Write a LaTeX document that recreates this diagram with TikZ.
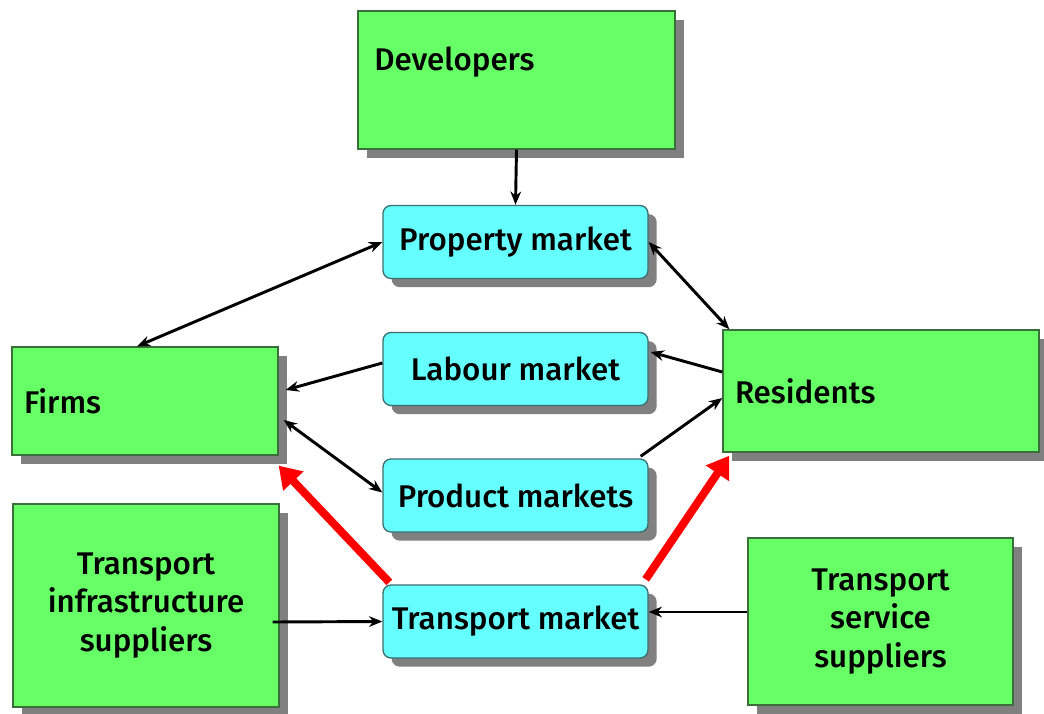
\documentclass[tikz,border=0pt]{standalone}
\usepackage{fontspec}
\setmainfont{Fira Sans}[BoldFont={Fira Sans Medium}]
\usepackage{tikz}
\usetikzlibrary{arrows.meta,shadows}
\tikzset{every picture/.style={line width=0.75pt}}

\begin{document}
\begin{tikzpicture}[x=0.75pt,y=0.75pt,yscale=-1,xscale=1,
	greenbox/.style={draw={rgb, 255:red, 60; green, 110; blue, 60 }, fill={rgb, 255:red, 102; green, 255; blue, 102 }, line width=1pt, inner sep=0pt,
		drop shadow={shadow xshift=6.5pt, shadow yshift=-6.5pt, fill={rgb, 255:red, 128; green, 128; blue, 128 }, opacity=1}},
	cyanbox/.style={draw={rgb, 255:red, 60; green, 110; blue, 110 }, fill={rgb, 255:red, 102; green, 255; blue, 255 }, line width=1pt, rounded corners=6pt, inner sep=0pt,
		minimum width={265*0.75pt}, minimum height={73*0.75pt},
		drop shadow={shadow xshift=6.5pt, shadow yshift=-6.5pt, fill={rgb, 255:red, 128; green, 128; blue, 128 }, opacity=1}},
	txt/.style={font=\fontsize{23.5}{29}\selectfont\bfseries},
	link/.style={draw=black, line width=2.2pt, -{Stealth[length=10pt,width=8pt]}},
	dlink/.style={link, {Stealth[length=10pt,width=8pt]}-{Stealth[length=10pt,width=8pt]}},
	redlink/.style={draw={rgb, 255:red, 255; green, 0; blue, 0 }, line width=6pt, -{Triangle[length=16pt,width=20pt]}}]
		\useasboundingbox (0,0) rectangle (1044,713);
		
		%Shape: Rectangle [id:developers] 
		\node [greenbox, minimum width={317*0.75pt}, minimum height={138*0.75pt}, label={[txt, anchor=west, shift={(12,18)}]west:Developers}] (dev) at (516.5,80) {};
		%Shape: Rectangle [id:firms] 
		\node [greenbox, txt, minimum width={266*0.75pt}, minimum height={108*0.75pt}, text width={242*0.75pt}, inner xsep=9pt, align=left] (firms) at (145,401) {Firms};
		%Shape: Rectangle [id:residents] 
		\node [greenbox, txt, minimum width={316*0.75pt}, minimum height={122*0.75pt}, text width={292*0.75pt}, inner xsep=9pt, align=left] (res) at (881,391) {Residents};
		%Shape: Rectangle [id:infrastructure] 
		\node [greenbox, txt, minimum width={266*0.75pt}, minimum height={203*0.75pt}, align=center] (infra) at (146,605.5) {Transport\\infrastructure\\suppliers};
		%Shape: Rectangle [id:service] 
		\node [greenbox, txt, minimum width={265*0.75pt}, minimum height={167*0.75pt}, align=center] (serv) at (880.5,621.5) {Transport\\service\\suppliers};
		
		%Shape: Rounded Rect [id:markets] 
		\node [cyanbox, txt] (prop) at (515.5,242) {Property market};
		\node [cyanbox, txt] (lab) at (515.5,369) {Labour market};
		\node [cyanbox, txt] (prod) at (515.5,495.5) {Product markets};
		\node [cyanbox, txt] (trans) at (515.5,621.5) {Transport market};
		
		%Straight Lines [id:black] 
		\draw [link] (dev.south) -- (prop.north) ;
		\draw [dlink] (prop.west) -- ([shift={(-8,0)}]firms.north) ;
		\draw [dlink] (prop.east) -- ([shift={(7,0)}]res.north west) ;
		\draw [link] ([shift={(0,-19)}]res.west) -- ([shift={(2,-17)}]lab.east) ;
		\draw [link] ([shift={(0,-6)}]lab.west) -- ([shift={(7,-11)}]firms.east) ;
		\draw [dlink] ([shift={(5,19)}]firms.east) -- ([shift={(0,-3)}]prod.west) ;
		\draw [link] ([shift={(-8,-2)}]prod.north east) -- ([shift={(0,7)}]res.west) ;
		\draw [link] ([shift={(-7,16.5)}]infra.east) -- (trans.west) ;
		\draw [link] ([shift={(0,-9.5)}]serv.west) -- ([shift={(0,-9.5)}]trans.east) ;
		
		%Straight Lines [id:red] 
		\draw [redlink] ([shift={(7,-2)}]trans.north west) -- ([shift={(0,10)}]firms.south east) ;
		\draw [redlink] ([shift={(-3,-5)}]trans.north east) -- ([shift={(7,3)}]res.south west) ;
		
\end{tikzpicture}
\end{document}
